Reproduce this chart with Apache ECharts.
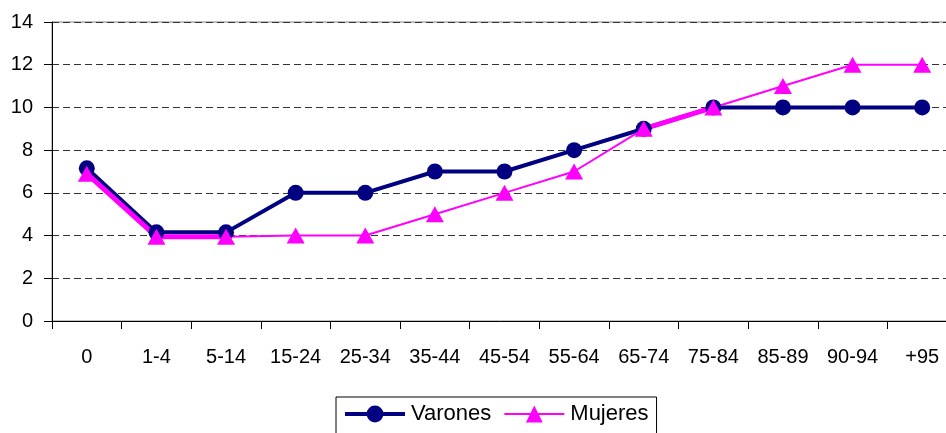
<!DOCTYPE html>
<html>
<head>
<meta charset="utf-8">
<script src="https://cdn.jsdelivr.net/npm/echarts@6/dist/echarts.min.js"></script>
<style>
html,body{margin:0;padding:0;background:#fff;}
#c{width:946px;height:433px;}
</style>
</head>
<body>
<div id="c"></div>
<script>
const categories = ['0','1-4','5-14','15-24','25-34','35-44','45-54','55-64','65-74','75-84','85-89','90-94','+95'];
const varones = [7.15, 4.15, 4.15, 6, 6, 7, 7, 8, 9, 10, 10, 10, 10];
const mujeres = [6.9, 3.95, 3.95, 4, 4, 5, 6, 7, 9, 10, 11, 12, 12];
const yTicks = [0, 14, 2];
// indices where the Mujeres line is drawn with a heavy stroke in the reference
const mujeresHeavy = [0, 1, 2, 8, 9];

const FONT = "'Liberation Sans', Arial, sans-serif";
const chart = echarts.init(document.getElementById('c'), null, {renderer: 'canvas'});
chart.setOption({
  animation: false,
  backgroundColor: '#fff',
  textStyle: {fontFamily: FONT, color: '#000'},
  grid: {
    left: 52, top: 22, width: 905, height: 299,
    show: true, borderColor: '#808080', borderWidth: 1,
    outerBoundsMode: 'none'
  },
  legend: {
    data: [
      {name: 'Varones', lineStyle: {width: 4, color: '#000080'}},
      {name: 'Mujeres', lineStyle: {width: 2, color: '#FF00FF'}}
    ],
    left: 336, top: 397,
    padding: [6, 8, 14, 7],
    itemGap: 12,
    itemWidth: 60, itemHeight: 21,
    borderColor: '#000', borderWidth: 1,
    textStyle: {fontFamily: FONT, fontSize: 22, color: '#000', padding: [0,0,0,1]}
  },
  xAxis: {
    type: 'category',
    data: categories,
    boundaryGap: true,
    axisLine: {lineStyle: {color: '#000', width: 1}},
    axisTick: {show: true, length: 8, lineStyle: {color: '#000'}},
    axisLabel: {fontFamily: FONT, fontSize: 20, color: '#000', margin: 26},
    splitLine: {show: false}
  },
  yAxis: {
    type: 'value',
    min: yTicks[0], max: yTicks[1], interval: yTicks[2],
    axisLine: {show: true, lineStyle: {color: '#000', width: 1}},
    axisTick: {show: true, length: 8, lineStyle: {color: '#000'}},
    axisLabel: {fontFamily: FONT, fontSize: 20, color: '#000', margin: 19},
    splitLine: {show: true, lineStyle: {color: '#333', type: [7, 4], width: 1}}
  },
  series: [
    {
      name: 'Varones', type: 'line', data: varones,
      lineStyle: {color: '#000080', width: 4},
      itemStyle: {color: '#000080'},
      symbol: 'circle', symbolSize: 16, showSymbol: true
    },
    {
      name: 'Mujeres-tramo', type: 'line',
      data: mujeres.map((v, i) => mujeresHeavy.includes(i) ? v : null),
      connectNulls: false,
      lineStyle: {color: '#FF00FF', width: 5},
      itemStyle: {color: '#FF00FF'},
      symbol: 'none'
    },
    {
      name: 'Mujeres', type: 'line', data: mujeres,
      lineStyle: {color: '#FF00FF', width: 2},
      itemStyle: {color: '#FF00FF'},
      symbol: 'triangle', symbolSize: [18, 16], showSymbol: true
    }
  ]
});
</script>
</body>
</html>
